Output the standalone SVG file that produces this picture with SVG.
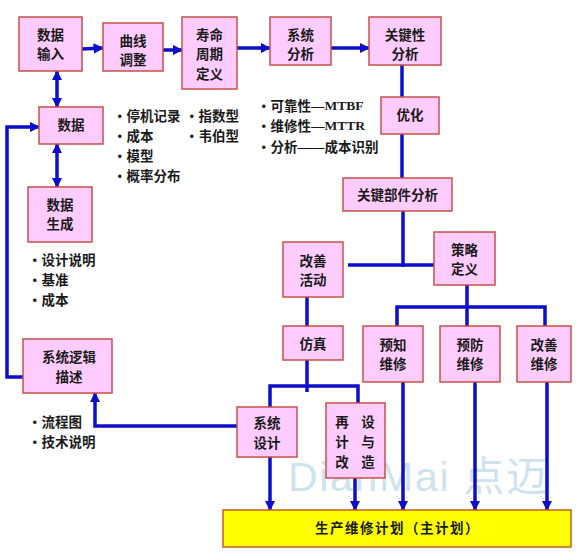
<svg xmlns="http://www.w3.org/2000/svg" width="583" height="554" viewBox="0 0 583 554">
<style>
.n{fill:#ffccff;stroke:#c8504a;stroke-width:1.5}
.y{fill:#ffff00;stroke:#c06020;stroke-width:1.5}
.t{font-family:"Noto Sans CJK SC","Noto Sans",sans-serif;font-size:13.5px;font-weight:bold;fill:#1a1a1a;text-anchor:middle;dominant-baseline:central}
.b{font-family:"Noto Sans CJK SC","Noto Sans",sans-serif;font-size:13.5px;font-weight:bold;fill:#1a1a1a;dominant-baseline:central}
.m{font-family:"Liberation Serif",serif;font-weight:bold}
.c path{fill:none;stroke:#0d0dcc;stroke-width:3.5}
.wm{font-family:"Liberation Sans",sans-serif;font-size:41px;fill:#cfe3ef}
</style>
<defs>
<marker id="a" viewBox="0 0 10 10" refX="9" refY="5" markerWidth="3" markerHeight="3" orient="auto-start-reverse" markerUnits="strokeWidth">
<path d="M0,0 L10,5 L0,10 z" fill="#0d0dcc"/>
</marker>
</defs>
<rect width="583" height="554" fill="#fff"/>
<text class="wm" x="288" y="491" textLength="259" lengthAdjust="spacing">DianMai <tspan font-family="Noto Sans CJK SC,sans-serif">点迈</tspan></text>
<g class="c">
<path d="M82,49 L103,48" marker-end="url(#a)"/>
<path d="M163,50 L182,50" marker-end="url(#a)"/>
<path d="M237,48 L270,48" marker-end="url(#a)"/>
<path d="M331,48 L369,48" marker-end="url(#a)"/>
<path d="M402,65 L402,97"/>
<path d="M402,134 L402,178"/>
<path d="M403,211 L403,267"/>
<path d="M348,265 L434,265"/>
<path d="M307,297 L307,326"/>
<path d="M467,285 L467,326"/>
<path d="M397,326 L397,307 L545,307 L545,326"/>
<path d="M307,360 L307,392"/>
<path d="M270,407 L270,386 L358,386 L358,403"/>
<path d="M237,426 L95,426 L95,393" marker-end="url(#a)"/>
<path d="M270,457 L270,510" marker-end="url(#a)"/>
<path d="M355,478 L355,510" marker-end="url(#a)"/>
<path d="M403,382 L403,510" marker-end="url(#a)"/>
<path d="M475,382 L475,510" marker-end="url(#a)"/>
<path d="M547,382 L547,510" marker-end="url(#a)"/>
<path d="M57,71 L57,107" marker-start="url(#a)" marker-end="url(#a)"/>
<path d="M57,144 L57,187" marker-start="url(#a)" marker-end="url(#a)"/>
<path d="M23,377 L7,377 L7,127 L39,127" marker-end="url(#a)"/>
</g>
<g id="n1"><rect class="n" x="19" y="17" width="63" height="54"/><text class="t" x="50.5" y="34">数据</text><text class="t" x="50.5" y="53">输入</text></g>
<g id="n2"><rect class="n" x="103" y="23" width="60" height="48"/><text class="t" x="133" y="40">曲线</text><text class="t" x="133" y="59">调整</text></g>
<g id="n3"><rect class="n" x="182" y="17" width="55" height="72"/><text class="t" x="209.5" y="34">寿命</text><text class="t" x="209.5" y="53">周期</text><text class="t" x="209.5" y="73">定义</text></g>
<g id="n4"><rect class="n" x="270" y="17" width="61" height="48"/><text class="t" x="300.5" y="34">系统</text><text class="t" x="300.5" y="53">分析</text></g>
<g id="n5"><rect class="n" x="369" y="17" width="72" height="48"/><text class="t" x="405" y="34">关键性</text><text class="t" x="405" y="53">分析</text></g>
<g id="n6"><rect class="n" x="381" y="97" width="58" height="37"/><text class="t" x="410" y="114">优化</text></g>
<g id="n7"><rect class="n" x="343" y="178" width="109" height="33"/><text class="t" x="397.5" y="194">关键部件分析</text></g>
<g id="n8"><rect class="n" x="434" y="232" width="61" height="53"/><text class="t" x="464.5" y="249">策略</text><text class="t" x="464.5" y="268">定义</text></g>
<g id="n9"><rect class="n" x="283" y="242" width="60" height="55"/><text class="t" x="313" y="260">改善</text><text class="t" x="313" y="279">活动</text></g>
<g id="n10"><rect class="n" x="283" y="326" width="60" height="34"/><text class="t" x="313" y="343">仿真</text></g>
<g id="n11"><rect class="n" x="363" y="326" width="60" height="56"/><text class="t" x="393" y="344">预知</text><text class="t" x="393" y="363">维修</text></g>
<g id="n12"><rect class="n" x="440" y="326" width="60" height="56"/><text class="t" x="470" y="344">预防</text><text class="t" x="470" y="363">维修</text></g>
<g id="n13"><rect class="n" x="517" y="326" width="54" height="56"/><text class="t" x="544" y="344">改善</text><text class="t" x="544" y="363">维修</text></g>
<g id="n14"><rect class="n" x="39" y="107" width="64" height="37"/><text class="t" x="71" y="124">数据</text></g>
<g id="n15"><rect class="n" x="28" y="187" width="64" height="55"/><text class="t" x="60" y="204">数据</text><text class="t" x="60" y="223">生成</text></g>
<g id="n16"><rect class="n" x="23" y="339" width="89" height="54"/><text class="t" x="69" y="356">系统逻辑</text><text class="t" x="69" y="376">描述</text></g>
<g id="n17"><rect class="n" x="237" y="407" width="60" height="50"/><text class="t" x="267" y="422">系统</text><text class="t" x="267" y="442">设计</text></g>
<g id="n18"><rect class="n" x="326" y="403" width="59" height="75"/><text class="t" x="342" y="421">再</text><text class="t" x="368" y="421">设</text><text class="t" x="342" y="441">计</text><text class="t" x="368" y="441">与</text><text class="t" x="342" y="461">改</text><text class="t" x="368" y="461">造</text></g>
<g id="n19"><rect class="y" x="223" y="510" width="348" height="37"/><text class="b" x="315" y="527" letter-spacing="1.5">生产维修计划（主计划）</text></g>
<g id="notes">
<text class="b" x="113" y="115">•停机记录</text>
<text class="b" x="113" y="135">•成本</text>
<text class="b" x="113" y="155">•模型</text>
<text class="b" x="113" y="175">•概率分布</text>
<text class="b" x="185" y="115">•指数型</text>
<text class="b" x="185" y="135">•韦伯型</text>
<text class="b" x="257" y="105">•可靠性<tspan class="m">—MTBF</tspan></text>
<text class="b" x="257" y="125">•维修性<tspan class="m">—MTTR</tspan></text>
<text class="b" x="257" y="146">•分析<tspan class="m">——</tspan>成本识别</text>
<text class="b" x="28" y="259">•设计说明</text>
<text class="b" x="28" y="279">•基准</text>
<text class="b" x="28" y="299">•成本</text>
<text class="b" x="28" y="421">•流程图</text>
<text class="b" x="28" y="441">•技术说明</text>
</g>
</svg>
